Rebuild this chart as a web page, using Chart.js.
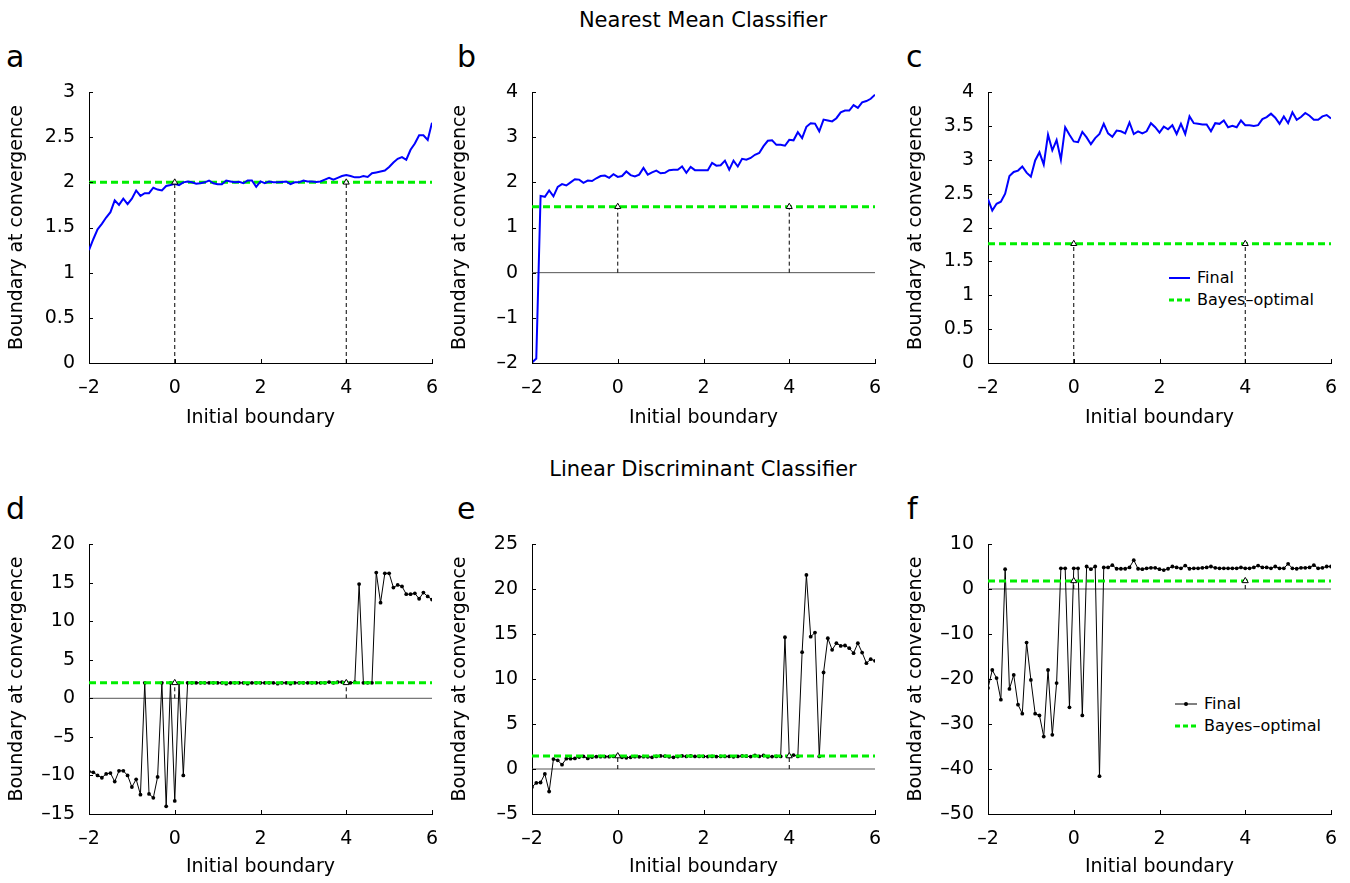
<!DOCTYPE html>
<html>

<head>
  <meta charset="UTF-8" />
  <title>Boundary at convergence</title>
  <script src="https://cdn.jsdelivr.net/npm/chart.js@4.4.1/dist/chart.umd.min.js"></script>
  <style>
    body { margin: 0; background: #fff; font-family: 'DejaVu Sans', sans-serif; color: #000; }
    #page { position: relative; width: 1350px; height: 883px; overflow: hidden; }
    canvas, .txt, .legend { position: absolute; }
    .head { font-size: 21px; line-height: 21px; width: 600px; left: 403px; text-align: center; }
    .letter { font-size: 30px; line-height: 30px; }
    .legend { font-size: 16px; }
    .legend div { height: 22px; line-height: 22px; display: flex; align-items: center; white-space: nowrap; }
    .legend svg { margin-right: 7px; }
  </style>
</head>

<body>
  <div id="page">
    <div class="txt head" style="top:10px">Nearest Mean Classifier</div>
    <div class="txt head" style="top:459px">Linear Discriminant Classifier</div>
    <div class="txt letter" style="left:6px;top:42px">a</div>
    <div class="txt letter" style="left:457px;top:42px">b</div>
    <div class="txt letter" style="left:906px;top:42px">c</div>
    <div class="txt letter" style="left:6px;top:494px">d</div>
    <div class="txt letter" style="left:457px;top:494px">e</div>
    <div class="txt letter" style="left:907px;top:494px">f</div>

    <div class="legend" style="left:1169px;top:267px">
      <div><svg width="21" height="10"><line x1="0" y1="5" x2="21" y2="5" stroke="#0000ff" stroke-width="2"/></svg>Final</div>
      <div><svg width="21" height="10"><line x1="0" y1="5" x2="21" y2="5" stroke="#00ee00" stroke-width="3" stroke-dasharray="5 3"/></svg>Bayes–optimal</div>
    </div>
    <div class="legend" style="left:1175px;top:693px">
      <div><svg width="22" height="10"><line x1="0" y1="5" x2="22" y2="5" stroke="#000" stroke-width="1"/><circle cx="11" cy="5" r="2" fill="#000"/></svg>Final</div>
      <div><svg width="22" height="10"><line x1="0" y1="5" x2="22" y2="5" stroke="#00ee00" stroke-width="3" stroke-dasharray="5 3"/></svg>Bayes–optimal</div>
    </div>
  </div>
  <script>

    const xInit = [-2, -1.9, -1.8, -1.7, -1.6, -1.5, -1.4, -1.3, -1.2, -1.1,
      -1, -0.9, -0.8, -0.7, -0.6, -0.5, -0.4, -0.3, -0.2, -0.1,
      0, 0.1, 0.2, 0.3, 0.4, 0.5, 0.6, 0.7, 0.8, 0.9,
      1, 1.1, 1.2, 1.3, 1.4, 1.5, 1.6, 1.7, 1.8, 1.9,
      2, 2.1, 2.2, 2.3, 2.4, 2.5, 2.6, 2.7, 2.8, 2.9,
      3, 3.1, 3.2, 3.3, 3.4, 3.5, 3.6, 3.7, 3.8, 3.9,
      4, 4.1, 4.2, 4.3, 4.4, 4.5, 4.6, 4.7, 4.8, 4.9,
      5, 5.1, 5.2, 5.3, 5.4, 5.5, 5.6, 5.7, 5.8, 5.9,
      6];
    const xTicks = [-2, 0, 2, 4, 6];
    const markerX = [0, 4];

    // Nearest mean classifier
    const finalA = [1.25, 1.37, 1.48, 1.54, 1.61, 1.67, 1.80, 1.75, 1.82, 1.76,
      1.82, 1.91, 1.85, 1.88, 1.88, 1.94, 1.92, 1.91, 1.96, 1.97,
      1.985, 1.97, 2.0, 2.01, 2.0, 1.985, 1.99, 2.0, 2.02, 1.99,
      1.98, 1.98, 2.02, 2.01, 2.0, 2.005, 1.99, 2.02, 2.02, 1.95,
      2.01, 1.99, 2.01, 2.0, 2.0, 2.005, 2.01, 1.98, 2.0, 2.0,
      2.02, 2.01, 2.01, 2.005, 2.01, 2.03, 2.05, 2.03, 2.05, 2.07,
      2.08, 2.07, 2.055, 2.055, 2.07, 2.06, 2.10, 2.11, 2.12, 2.13,
      2.17, 2.22, 2.26, 2.28, 2.25, 2.36, 2.43, 2.52, 2.52, 2.47,
      2.66];
    const finalB = [-1.99, -1.9, 1.70, 1.68, 1.82, 1.69, 1.90, 1.96, 1.93, 2.0,
      2.07, 2.06, 1.99, 2.04, 2.03, 2.09, 2.14, 2.15, 2.10, 2.18,
      2.12, 2.14, 2.24, 2.16, 2.13, 2.17, 2.32, 2.17, 2.22, 2.26,
      2.20, 2.21, 2.27, 2.28, 2.28, 2.35, 2.21, 2.34, 2.27, 2.27,
      2.27, 2.27, 2.43, 2.37, 2.38, 2.48, 2.28, 2.48, 2.35, 2.52,
      2.50, 2.54, 2.61, 2.65, 2.80, 2.92, 2.93, 2.83, 2.83, 2.81,
      2.94, 2.93, 3.11, 2.98, 3.23, 3.31, 3.30, 3.13, 3.39, 3.37,
      3.35, 3.42, 3.55, 3.59, 3.59, 3.71, 3.65, 3.77, 3.80, 3.85,
      3.94];
    const finalC = [2.42, 2.25, 2.35, 2.38, 2.50, 2.76, 2.82, 2.84, 2.90, 2.81,
      2.75, 2.99, 3.11, 2.93, 3.37, 3.14, 3.29, 3.0, 3.48, 3.37,
      3.27, 3.26, 3.41, 3.33, 3.23, 3.32, 3.38, 3.53, 3.39, 3.34,
      3.43, 3.42, 3.39, 3.55, 3.38, 3.42, 3.39, 3.42, 3.54, 3.48,
      3.40, 3.49, 3.45, 3.51, 3.38, 3.53, 3.38, 3.64, 3.54, 3.53,
      3.52, 3.52, 3.42, 3.54, 3.53, 3.58, 3.48, 3.50, 3.48, 3.58,
      3.51, 3.51, 3.50, 3.51, 3.60, 3.63, 3.68, 3.62, 3.53, 3.64,
      3.54, 3.70, 3.59, 3.63, 3.69, 3.65, 3.59, 3.59, 3.64, 3.66,
      3.61];

    // Linear discriminant classifier
    const finalD = [-9.5, -9.6, -10.0, -10.3, -9.8, -9.7, -10.8, -9.4, -9.4, -10.0,
      -11.5, -10.5, -12.5, 2.0, -12.4, -12.9, -10.2, 2.0, -14.0, 2.0,
      -13.3, 2.0, -10.0, 2.0, 2.0, 2.0, 2.0, 2.0, 2.0, 2.0,
      2.0, 2.0, 1.9, 2.0, 2.0, 2.0, 2.0, 1.9, 2.0, 2.0,
      2.0, 2.0, 2.0, 2.0, 1.9, 2.0, 2.0, 1.9, 2.0, 2.0,
      2.0, 2.0, 2.0, 2.0, 2.0, 2.0, 2.1, 2.0, 2.1, 2.1,
      2.1, 2.0, 2.1, 14.8, 2.0, 2.0, 2.0, 16.3, 12.4, 16.2,
      16.2, 14.35, 14.7, 14.5, 13.5, 13.5, 13.6, 12.9, 13.7, 13.2,
      12.8];
    const finalE = [-2.0, -1.55, -1.5, -0.55, -2.5, 1.1, 0.96, 0.48, 1.15, 1.15,
      1.18, 1.33, 1.4, 1.18, 1.33, 1.37, 1.37, 1.37, 1.37, 1.4,
      1.5, 1.3, 1.25, 1.3, 1.37, 1.35, 1.37, 1.35, 1.3, 1.4,
      1.45, 1.42, 1.35, 1.3, 1.38, 1.45, 1.4, 1.45, 1.4, 1.4,
      1.4, 1.38, 1.4, 1.38, 1.4, 1.4, 1.4, 1.35, 1.4, 1.45,
      1.42, 1.38, 1.5, 1.4, 1.5, 1.35, 1.38, 1.4, 1.4, 14.64,
      1.4, 1.55, 1.4, 12.98, 21.56, 14.7, 15.16, 1.4, 10.72, 14.53,
      13.24, 13.98, 13.68, 13.72, 13.42, 12.87, 13.98, 12.94, 11.76, 12.2,
      12.02];
    const finalF = [-22.0, -18.0, -19.8, -24.6, 4.4, -22.2, -19.1, -25.7, -27.7, -11.9,
      -20.2, -27.7, -28.1, -32.8, -18.0, -32.4, -20.9, 4.6, 4.6, -26.3,
      4.6, 4.6, -28.1, 5.0, 4.4, 5.0, -41.6, 4.8, 4.8, 5.3,
      4.5, 4.5, 4.5, 4.8, 6.4, 4.5, 4.4, 4.6, 4.7, 4.7,
      4.4, 4.2, 4.5, 5.0, 4.8, 4.6, 5.2, 4.5, 4.6, 4.6,
      4.7, 4.8, 5.0, 4.7, 4.6, 4.6, 4.6, 4.6, 4.6, 4.8,
      4.6, 4.6, 4.8, 5.2, 4.8, 4.8, 4.6, 5.0, 4.6, 4.6,
      5.6, 4.6, 4.5, 4.7, 4.7, 4.8, 5.3, 4.6, 4.7, 5.0,
      5.0];

    // Bayes-optimal boundary, panels a..f
    const bayesOptimal = [2.0, 1.46, 1.76, 2.0, 1.44, 1.8];

    const yTicksA = [0, 0.5, 1, 1.5, 2, 2.5, 3];
    const yTicksB = [-2, -1, 0, 1, 2, 3, 4];
    const yTicksC = [0, 0.5, 1, 1.5, 2, 2.5, 3, 3.5, 4];
    const yTicksD = [-15, -10, -5, 0, 5, 10, 15, 20];
    const yTicksE = [-5, 0, 5, 10, 15, 20, 25];
    const yTicksF = [-50, -40, -30, -20, -10, 0, 10];

    const FONT = 'DejaVu Sans';
    const GREEN = '#00ee00';
    const PAD_TOP = 30, PAD_RIGHT = 26, AXIS_W = 89;

    function fmt(v) {
      return String(v).replace('-', '\u2013');
    }

    // matlab style ticks pointing into the plot
    const inwardTicks = {
      id: 'inwardTicks',
      afterDraw(chart) {
        const ctx = chart.ctx;
        const x = chart.scales.x, y = chart.scales.y;
        ctx.save();
        ctx.strokeStyle = '#000';
        ctx.lineWidth = 1;
        ctx.beginPath();
        x.ticks.forEach(t => {
          const px = Math.round(x.getPixelForValue(t.value)) + 0.5;
          ctx.moveTo(px, y.bottom);
          ctx.lineTo(px, y.bottom - 4);
        });
        y.ticks.forEach(t => {
          const py = Math.round(y.getPixelForValue(t.value)) + 0.5;
          ctx.moveTo(x.left, py);
          ctx.lineTo(x.left + 4, py);
        });
        ctx.stroke();
        ctx.restore();
      }
    };

    function makePanel(p) {
      const cv = document.createElement('canvas');
      cv.width = p.w + AXIS_W + PAD_RIGHT;
      cv.height = PAD_TOP + p.h + p.xh;
      cv.style.left = (p.left - AXIS_W) + 'px';
      cv.style.top = (p.top - PAD_TOP) + 'px';
      document.getElementById('page').appendChild(cv);

      const yMin = p.yTicks[0], yMax = p.yTicks[p.yTicks.length - 1];
      const datasets = [];
      datasets.push({
        data: markerX.map(x => ({ x: x, y: p.bayes })),
        showLine: false, pointStyle: 'triangle', pointRadius: 3.5,
        pointBorderColor: '#000', pointBackgroundColor: '#fff', pointBorderWidth: 1,
        order: 0
      });
      datasets.push({
        data: xInit.map((x, i) => ({ x: x, y: p.vals[i] })),
        borderColor: p.color, borderWidth: p.dots ? 1 : 2,
        pointRadius: p.dots ? 1.9 : 0, pointBackgroundColor: '#000', pointBorderWidth: 0,
        order: p.dots ? 2 : 1
      });
      datasets.push({
        data: [{ x: xTicks[0], y: p.bayes }, { x: xTicks[xTicks.length - 1], y: p.bayes }],
        borderColor: GREEN, borderWidth: 3, borderDash: [7, 4], pointRadius: 0,
        order: p.dots ? 1 : 2
      });
      datasets.push({
        data: [{ x: markerX[0], y: 0 }, { x: markerX[0], y: p.bayes }, { x: 2, y: null },
          { x: markerX[1], y: 0 }, { x: markerX[1], y: p.bayes }],
        borderColor: '#000', borderWidth: 1, borderDash: [4, 3], pointRadius: 0,
        order: 3
      });
      if (p.zero) {
        datasets.push({
          data: [{ x: xTicks[0], y: 0 }, { x: xTicks[xTicks.length - 1], y: 0 }],
          borderColor: '#555', borderWidth: 1, pointRadius: 0, order: 4
        });
      }

      new Chart(cv, {
        type: 'line',
        data: { datasets: datasets },
        plugins: [inwardTicks],
        options: {
          responsive: false,
          animation: false,
          devicePixelRatio: 1,
          layout: { autoPadding: false, padding: { left: 0, top: PAD_TOP, right: PAD_RIGHT, bottom: 0 } },
          plugins: { legend: { display: false }, tooltip: { enabled: false } },
          elements: { line: { tension: 0 } },
          scales: {
            x: {
              type: 'linear', min: xTicks[0], max: xTicks[xTicks.length - 1],
              afterBuildTicks: s => { s.ticks = xTicks.map(v => ({ value: v })); },
              afterFit: s => { s.height = p.xh; },
              grid: { display: false, drawTicks: false },
              border: { display: true, color: '#000', width: 1 },
              ticks: { color: '#000', padding: 14, maxRotation: 0, autoSkip: false,
                font: { family: FONT, size: 19 }, callback: v => fmt(v) },
              title: { display: true, text: 'Initial boundary', color: '#000', padding: 0,
                font: { family: FONT, size: 19 } }
            },
            y: {
              type: 'linear', min: yMin, max: yMax,
              afterBuildTicks: s => { s.ticks = p.yTicks.map(v => ({ value: v })); },
              afterFit: s => { s.width = AXIS_W; },
              grid: { display: false, drawTicks: false },
              border: { display: true, color: '#000', width: 1 },
              ticks: { color: '#000', padding: 14, autoSkip: false,
                font: { family: FONT, size: 19 }, callback: v => fmt(v) },
              title: { display: true, text: 'Boundary at convergence', color: '#000',
                padding: { top: 6, bottom: 0 }, font: { family: FONT, size: 19 } }
            }
          }
        }
      });
    }

    makePanel({ left: 89, top: 92, w: 343, h: 271, xh: 66, vals: finalA, yTicks: yTicksA, bayes: bayesOptimal[0], color: '#0000ff', dots: false, zero: false });
    makePanel({ left: 532, top: 92, w: 343, h: 271, xh: 66, vals: finalB, yTicks: yTicksB, bayes: bayesOptimal[1], color: '#0000ff', dots: false, zero: true });
    makePanel({ left: 988, top: 92, w: 343, h: 271, xh: 66, vals: finalC, yTicks: yTicksC, bayes: bayesOptimal[2], color: '#0000ff', dots: false, zero: false });
    makePanel({ left: 89, top: 544, w: 343, h: 270, xh: 64, vals: finalD, yTicks: yTicksD, bayes: bayesOptimal[3], color: '#000', dots: true, zero: true });
    makePanel({ left: 532, top: 544, w: 343, h: 270, xh: 64, vals: finalE, yTicks: yTicksE, bayes: bayesOptimal[4], color: '#000', dots: true, zero: true });
    makePanel({ left: 988, top: 544, w: 343, h: 270, xh: 64, vals: finalF, yTicks: yTicksF, bayes: bayesOptimal[5], color: '#000', dots: true, zero: true });
  </script>
</body>

</html>
